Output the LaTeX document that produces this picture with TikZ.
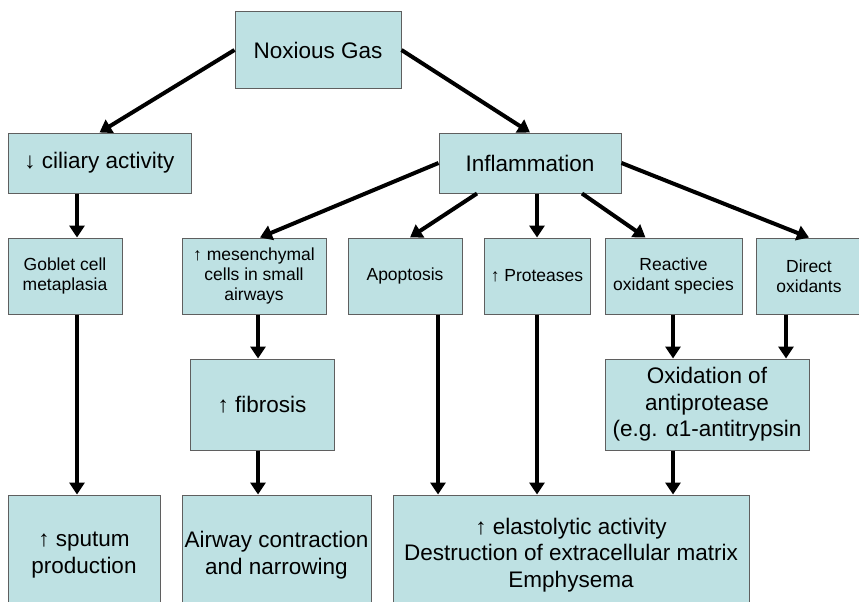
\documentclass[tikz,border=0pt]{standalone}
\usepackage{fontspec}
\setmainfont{Liberation Sans}
\usetikzlibrary{arrows.meta}
\definecolor{boxfill}{RGB}{190,225,227}
\definecolor{boxline}{RGB}{95,95,95}

\begin{document}
\begin{tikzpicture}[
  x=1pt, y=-1pt,
  >={Triangle[length=12pt,width=15pt]},
  box/.style={draw=boxline, line width=1pt, fill=boxfill, inner sep=0pt, align=center},
  big/.style={box, font=\fontsize{22.5}{26.5}\selectfont},
  small/.style={box, font=\fontsize{17.5}{20}\selectfont, minimum height=76pt},
  link/.style={->, line width=4pt}
]
\useasboundingbox (0,0) rectangle (859,602);
\clip (0,0) rectangle (859,602);

% top: source and the two main branches
\node[big, minimum width=166pt, minimum height=76pt] (gas) at (318,50) {Noxious Gas};
\node[big, minimum width=183pt, minimum height=60pt] (cilia) at (99.5,163) {↓ ciliary activity};
\node[big, minimum width=182pt, minimum height=60pt] (inflam) at (530,163) {Inflammation};

% second row (small text)
\node[small, minimum width=114pt] (goblet) at (65,276) {Goblet cell\\metaplasia};
\node[small, minimum width=144pt] (mesen) at (254,276) {↑ mesenchymal\\cells in small\\airways};
\node[small, minimum width=114pt] (apop) at (405,276) {Apoptosis};
\node[small, minimum width=106pt] (prot) at (537,276) {↑ Proteases};
\node[small, minimum width=137pt] (ros) at (673.5,276) {Reactive\\oxidant species};
\node[small, minimum width=106pt] (direct) at (809,276) {Direct\\oxidants};

% third row
\node[big, minimum width=144pt, minimum height=91pt] (fibro) at (262,404.5) {↑ fibrosis};
\node[big, minimum width=204pt, minimum height=91pt] (oxid) at (707,404.5) {Oxidation of\\antiprotease\\(e.g. α1-antitrypsin};

% bottom row, runs off the lower edge
\node[big, minimum width=152pt, minimum height=120pt] (sputum) at (84,555) {↑ sputum\\production};
\node[big, minimum width=189pt, minimum height=120pt] (airway) at (276.5,555) {Airway contraction\\and narrowing};
\node[big, minimum width=356pt, minimum height=120pt] (emph) at (571,555) {↑ elastolytic activity\\Destruction of extracellular matrix\\Emphysema};

% columns for the vertical links
\coordinate (colA) at (77,0);
\coordinate (colB) at (258,0);
\coordinate (colC) at (438,0);
\coordinate (colD) at (537,0);
\coordinate (colE) at (673,0);
\coordinate (colF) at (786,0);

% slanted links
\draw[link] (gas.west) -- (cilia.north);
\draw[link] (gas.east) -- (inflam.north);
\draw[link] (inflam.west) -- ([xshift=6pt]mesen.north);
\draw[link] ([xshift=-53pt]inflam.south) -- ([xshift=5pt]apop.north);
\draw[link] ([xshift=52pt]inflam.south) -- ([xshift=-28pt]ros.north);
\draw[link] (inflam.east) -- (direct.north);

% straight down
\foreach \a/\b/\c in {inflam/prot/D, cilia/goblet/A, goblet/sputum/A,
    mesen/fibro/B, fibro/airway/B, apop/emph/C, prot/emph/D,
    ros/oxid/E, direct/oxid/F, oxid/emph/E} {
  \draw[link] (\a.south -| col\c) -- (\b.north -| col\c);
}

\end{tikzpicture}
\end{document}
